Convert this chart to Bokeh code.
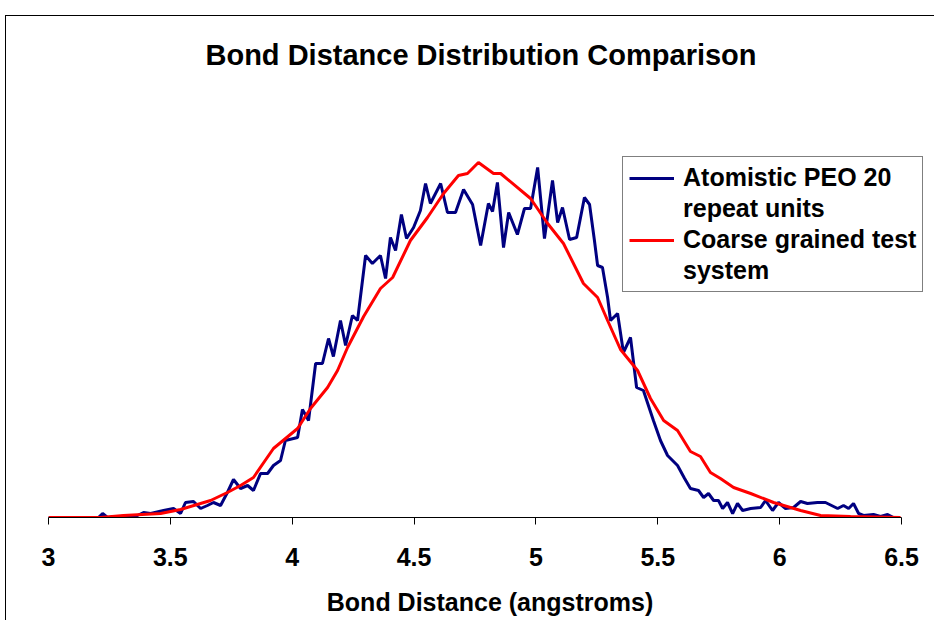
from bokeh.plotting import figure
from bokeh.models import Range1d, Legend, LegendItem, FixedTicker
from bokeh.embed import file_html
from bokeh.resources import INLINE

# Bond distance (angstroms) and relative frequency
atom_x = [3.000, 3.205, 3.222, 3.242, 3.295, 3.365, 3.390, 3.419, 3.472, 3.513,
          3.542, 3.562, 3.595, 3.624, 3.652, 3.677, 3.706, 3.734, 3.759, 3.788,
          3.817, 3.841, 3.870, 3.899, 3.923, 3.952, 3.972, 4.022, 4.042, 4.067,
          4.096, 4.124, 4.149, 4.169, 4.198, 4.219, 4.247, 4.268, 4.301, 4.329,
          4.362, 4.383, 4.403, 4.424, 4.448, 4.469, 4.498, 4.526, 4.547, 4.567,
          4.609, 4.637, 4.670, 4.703, 4.740, 4.773, 4.805, 4.822, 4.842, 4.867,
          4.888, 4.924, 4.953, 4.978, 5.007, 5.035, 5.068, 5.089, 5.109, 5.138,
          5.167, 5.199, 5.220, 5.240, 5.253, 5.273, 5.294, 5.306, 5.335, 5.359,
          5.388, 5.413, 5.441, 5.482, 5.511, 5.540, 5.581, 5.610, 5.634, 5.667,
          5.688, 5.708, 5.729, 5.749, 5.766, 5.786, 5.807, 5.827, 5.848, 5.881,
          5.922, 5.942, 5.971, 5.995, 6.024, 6.057, 6.086, 6.114, 6.155, 6.188,
          6.238, 6.262, 6.283, 6.303, 6.324, 6.344, 6.385, 6.414, 6.443, 6.467]
atom_y = [0.0000, 0.0000, 0.0004, 0.0000, 0.0001, 0.0002, 0.0005, 0.0004, 0.0007, 0.0009,
          0.0004, 0.0015, 0.0016, 0.0009, 0.0012, 0.0015, 0.0012, 0.0025, 0.0038, 0.0029,
          0.0032, 0.0027, 0.0044, 0.0044, 0.0052, 0.0057, 0.0077, 0.0080, 0.0108, 0.0097,
          0.0154, 0.0154, 0.0179, 0.0161, 0.0197, 0.0172, 0.0202, 0.0197, 0.0262, 0.0254,
          0.0262, 0.0239, 0.0280, 0.0267, 0.0303, 0.0279, 0.0290, 0.0307, 0.0334, 0.0314,
          0.0334, 0.0305, 0.0305, 0.0328, 0.0313, 0.0272, 0.0314, 0.0306, 0.0335, 0.0270,
          0.0305, 0.0283, 0.0309, 0.0309, 0.0350, 0.0279, 0.0337, 0.0295, 0.0310, 0.0278,
          0.0280, 0.0320, 0.0313, 0.0277, 0.0252, 0.0250, 0.0220, 0.0197, 0.0204, 0.0165,
          0.0180, 0.0130, 0.0127, 0.0097, 0.0077, 0.0062, 0.0052, 0.0039, 0.0029, 0.0027,
          0.0020, 0.0024, 0.0017, 0.0017, 0.0009, 0.0015, 0.0004, 0.0014, 0.0007, 0.0009,
          0.0010, 0.0017, 0.0007, 0.0015, 0.0009, 0.0010, 0.0016, 0.0014, 0.0015, 0.0015,
          0.0009, 0.0012, 0.0009, 0.0014, 0.0004, 0.0002, 0.0003, 0.0001, 0.0003, 0.0000]

cg_x = [3.000, 3.213, 3.308, 3.460, 3.542, 3.665, 3.734, 3.788, 3.841, 3.923,
        4.022, 4.075, 4.145, 4.186, 4.227, 4.293, 4.362, 4.412, 4.485, 4.555,
        4.621, 4.682, 4.719, 4.764, 4.826, 4.855, 4.978, 5.048, 5.113, 5.195,
        5.253, 5.294, 5.347, 5.417, 5.470, 5.524, 5.581, 5.634, 5.675, 5.716,
        5.757, 5.811, 5.881, 5.975, 6.086, 6.168, 6.291, 6.496]
cg_y = [0.0000, 0.0000, 0.0002, 0.0004, 0.0008, 0.0017, 0.0025, 0.0032, 0.0040, 0.0069,
        0.0089, 0.0109, 0.0130, 0.0147, 0.0170, 0.0201, 0.0229, 0.0240, 0.0277, 0.0300,
        0.0324, 0.0342, 0.0344, 0.0355, 0.0344, 0.0344, 0.0319, 0.0294, 0.0274, 0.0234,
        0.0220, 0.0197, 0.0168, 0.0147, 0.0119, 0.0097, 0.0087, 0.0066, 0.0061, 0.0045,
        0.0039, 0.0030, 0.0024, 0.0015, 0.0007, 0.0002, 0.0001, 0.0000]

tick_values = [3, 3.5, 4, 4.5, 5, 5.5, 6, 6.5]
tick_labels = ["3", "3.5", "4", "4.5", "5", "5.5", "6", "6.5"]

series_labels = [["Atomistic PEO 20", "repeat units"],
                 ["Coarse grained test", "system"]]

FONT = "Liberation Sans"

# the frame runs a little past 6.5 so the legend (which sticks out past the
# axis end in the original) is not clipped; the axis itself stops at 6.5
p = figure(width=929, height=605, output_backend="svg", toolbar_location=None,
           x_range=Range1d(3, 6.623), y_range=Range1d(0, 0.0427),
           min_border_left=42, min_border_right=4, min_border_top=74,
           min_border_bottom=104)
# chart-area border (left and top edges are visible in the original)
p.styles = {"margin-top": "15px", "margin-left": "5px",
            "border-left": "1px solid #000000", "border-top": "1px solid #000000"}

p.title.text = "Bond Distance Distribution Comparison"
p.title.align = "left"
p.title.offset = 157
p.title.text_font = FONT
p.title.text_font_size = "29px"
p.title.text_font_style = "bold"
p.title.text_color = "#000000"
p.title.standoff = 40

p.outline_line_color = None
p.grid.visible = False
p.yaxis.visible = False

ax = p.xaxis[0]
ax.bounds = (3, 6.5)
ax.ticker = FixedTicker(ticks=tick_values)
ax.major_label_overrides = {v: l for v, l in zip(tick_values, tick_labels)}
ax.minor_tick_line_color = None
ax.major_tick_in = 0
ax.major_tick_out = 7
ax.axis_line_color = "#000000"
ax.major_tick_line_color = "#000000"
ax.major_label_text_font = FONT
ax.major_label_text_font_style = "bold"
ax.major_label_text_font_size = "25px"
ax.major_label_text_color = "#000000"
ax.major_label_standoff = 23
ax.axis_label = "Bond Distance (angstroms)"
ax.axis_label_text_font = FONT
ax.axis_label_text_font_style = "bold"
ax.axis_label_text_font_size = "25px"
ax.axis_label_text_color = "#000000"
ax.axis_label_standoff = 19

r1 = p.line(atom_x, atom_y, line_color="#000080", line_width=3)
r2 = p.line(cg_x, cg_y, line_color="#FF0000", line_width=3)
# invisible renderers used only to carry the second line of each legend label
r1b = p.line([], [], line_alpha=0)
r2b = p.line([], [], line_alpha=0)

legend = Legend(items=[
    LegendItem(label=series_labels[0][0], renderers=[r1]),
    LegendItem(label=series_labels[0][1], renderers=[r1b]),
    LegendItem(label=series_labels[1][0], renderers=[r2]),
    LegendItem(label=series_labels[1][1], renderers=[r2b]),
])
legend.location = (574, 225)
legend.margin = 0
legend.padding = 6
legend.spacing = 2
legend.glyph_width = 45
legend.label_standoff = 9
legend.label_text_font = FONT
legend.label_text_font_style = "bold"
legend.label_text_font_size = "25px"
legend.label_text_color = "#000000"
legend.border_line_color = "#000000"
legend.border_line_width = 1
legend.background_fill_color = "#FFFFFF"
legend.background_fill_alpha = 1
p.add_layout(legend)

open("out.html", "w").write(file_html(p, INLINE))
